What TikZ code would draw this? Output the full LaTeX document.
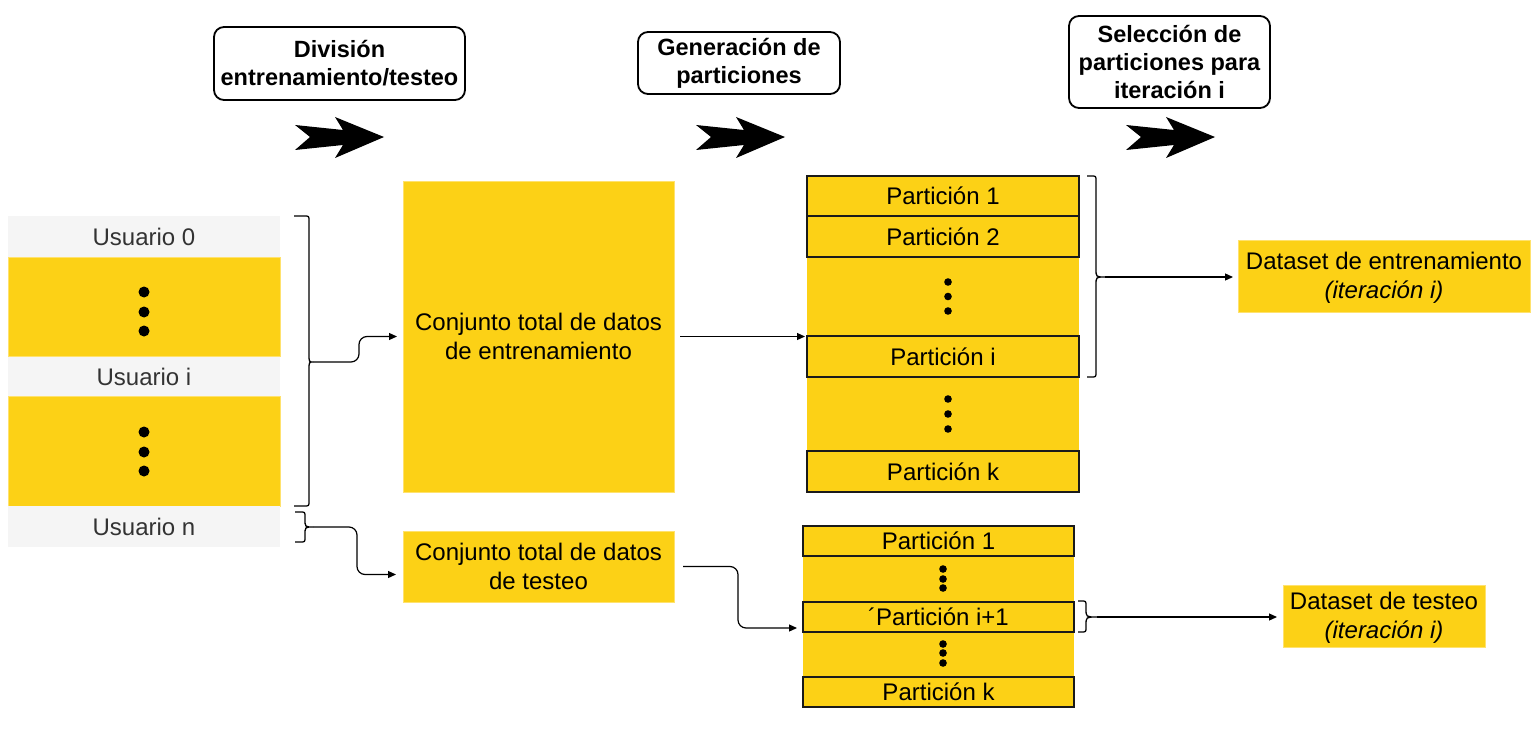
\documentclass[tikz,border=0pt]{standalone}
\usepackage{fontspec}
\setmainfont{Liberation Sans}
\usetikzlibrary{arrows.meta,calc}
\definecolor{ylw}{RGB}{252,209,22}
\definecolor{ylwedge}{RGB}{255,226,110}
\definecolor{gry}{RGB}{245,245,245}
\definecolor{txtgray}{RGB}{51,51,51}
\definecolor{pedge}{RGB}{26,26,26}
\tikzset{
  base/.style={inner sep=0pt, outer sep=0pt, font=\fontsize{24}{29}\selectfont, align=center},
  ybox/.style={base, fill=ylw, draw=ylwedge, line width=0.8pt},
  yfill/.style={base, fill=ylw},
  gbox/.style={base, fill=gry, text=txtgray},
  pbox/.style={base, fill=ylw, draw=pedge, line width=2pt},
  hbox/.style={base, draw=black, line width=1.8pt, rounded corners=10pt, font=\fontsize{23.5}{28}\selectfont\bfseries},
  conn/.style={line width=1.2pt, -{Triangle[length=8pt,width=7pt]}},
  bracestyle/.style={line width=1.3pt},
  fatarrow/.pic={\fill[black] (0,-12) -- (48,-7) -- (40,-20) -- (89,0) -- (40,21) -- (48,8) -- (0,13) -- (15,0) -- cycle;}
}
\newcommand\mybrace[6]{%
  \draw[bracestyle] (#1,#4) -- ({#2-5},#4) .. controls (#2,#4) .. (#2,{#4+5}) -- (#2,{#5-8})
    .. controls (#2,#5) .. (#3,#5) .. controls (#2,#5) .. (#2,{#5+8}) -- (#2,{#6-5})
    .. controls (#2,#6) .. ({#2-5},#6) -- (#1,#6);}
\begin{document}
\begin{tikzpicture}[x=1pt,y=-1pt]
\useasboundingbox (0,0) rectangle (1538,743);
\fill[white] (0,0) rectangle (1538,743);

% header boxes
\node[hbox, minimum width=251pt, minimum height=73pt] (h1) at (339.5,63.5) {División\\entrenamiento/testeo};
\node[hbox, minimum width=202pt, minimum height=62pt] (h2) at (739,63) {Generación de\\particiones};
\node[hbox, minimum width=201pt, minimum height=92pt] (h3) at (1169.5,62) {Selección de\\particiones para\\iteración i};

% big arrows
\pic at (295,137) {fatarrow};
\pic at (696,137) {fatarrow};
\pic at (1126,137) {fatarrow};

% left column
\node[gbox, minimum width=272pt, minimum height=41pt] (usr0) at (144,236.5) {Usuario 0};
\node[ybox, minimum width=272pt, minimum height=99pt] (yl1) at (144,306.5) {};
\node[gbox, minimum width=272pt, minimum height=40pt] (usri) at (144,376.5) {Usuario i};
\node[ybox, minimum width=272pt, minimum height=110pt] (yl2) at (144,451.5) {};
\node[gbox, minimum width=272pt, minimum height=41pt] (usrn) at (144,526.5) {Usuario n};
\foreach \yy in {292,312,331,432,452,471} \fill (144,\yy) circle (5.5pt);

% conjunto boxes
\node[ybox, minimum width=271pt, minimum height=311pt] (conj1) at (538.5,336.5) {Conjunto total de datos\\de entrenamiento};
\node[ybox, minimum width=271pt, minimum height=71pt] (conj2) at (538.5,566.5) {Conjunto total de datos\\de testeo};

% upper partitions
\node[yfill, minimum width=272pt, minimum height=316pt] (pcol1) at (943,334) {};
\node[pbox, minimum width=272pt, minimum height=40pt] (p1) at (943,196) {Partición 1};
\node[pbox, minimum width=272pt, minimum height=41pt] (p2) at (943,236.5) {Partición 2};
\node[pbox, minimum width=272pt, minimum height=41pt] (pi) at (943,356.5) {Partición i};
\node[pbox, minimum width=272pt, minimum height=41pt] (pk) at (943,471.5) {Partición k};
\foreach \yy in {282,296.5,311,399,414,429} \fill (948,\yy) circle (3.8pt);

% lower partitions
\node[yfill, minimum width=271pt, minimum height=181pt] (pcol2) at (938.5,616.5) {};
\node[pbox, minimum width=271pt, minimum height=30pt] (q1) at (938.5,541) {Partición 1};
\node[pbox, minimum width=271pt, minimum height=30pt] (qi) at (938.5,617) {´Partición i+1};
\node[pbox, minimum width=271pt, minimum height=30pt] (qk) at (938.5,692) {Partición k};
\foreach \yy in {569,579,588,644,653,663} \fill (943,\yy) circle (3.8pt);

% dataset boxes
\node[ybox, minimum width=292pt, minimum height=72pt] (ds1) at (1384,276) {};
\node[base, anchor=center] (ds1t) at (1384,278) {Dataset de entrenamiento\\\textit{(iteración i)}};
\node[ybox, minimum width=202pt, minimum height=62pt] (ds2) at (1384,616) {};
\node[base, anchor=center] (ds2t) at (1384,618) {Dataset de testeo\\\textit{(iteración i)}};

% braces
\mybrace{294}{309}{313}{216}{362}{506}
\mybrace{295}{305}{313}{512}{527}{542}
\mybrace{1087}{1096}{1105}{176}{277}{377}
\mybrace{1078}{1086}{1097}{601}{617}{632}
\coordinate (b1tip) at (313,362);
\coordinate (b2tip) at (313,527);
\coordinate (b3tip) at (1105,277);
\coordinate (b4tip) at (1097,617);

% connectors
\draw[conn, rounded corners=8pt] (b1tip) -| ($(conj1.west)+(-44,0)$) -- ($(conj1.west)+(-6,0)$);
\draw[conn, rounded corners=8pt] (b2tip) -| ($(conj2.west)+(-46,8)$) -- ($(conj2.west)+(-7,8)$);
\draw[conn, shorten <=6pt, shorten >=2pt] (conj1.east) -- (conj1.east -| pcol1.west);
\draw[conn, shorten >=5pt] (b3tip) -- (b3tip -| ds1.west);
\draw[conn, rounded corners=8pt] ($(conj2.east)+(9,0)$) -| ($(qi.west)+(-65,11)$) -- ($(qi.west)+(-6,11)$);
\draw[conn, shorten >=6pt] (b4tip) -- (b4tip -| ds2.west);
\end{tikzpicture}
\end{document}
